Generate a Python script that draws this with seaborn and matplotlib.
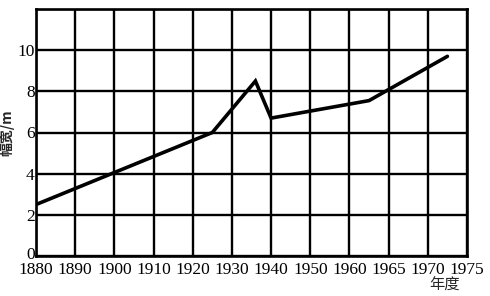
import numpy as np
import matplotlib
matplotlib.use("Agg")
import matplotlib.pyplot as plt
import matplotlib.transforms as mtransforms
import seaborn as sns
import pandas as pd

# data
years = [1880, 1925, 1936, 1940, 1962.5, 1972.5]
widths = [2.5, 6.0, 8.5, 6.7, 7.55, 9.7]
tick_years = [1880, 1890, 1900, 1910, 1920, 1930, 1940, 1950, 1960, 1965, 1970, 1975]
y_ticks = [0, 2, 4, 6, 8, 10]

sns.set_theme(style="white")
plt.rcParams['font.family'] = ['Liberation Serif', 'Noto Sans CJK SC']

pos = np.arange(len(tick_years), dtype=float)
ty = np.array(tick_years, dtype=float)

def fwd(x):
    x = np.asarray(x, dtype=float)
    out = np.interp(x, ty, pos)
    lo = x < ty[0]
    hi = x > ty[-1]
    out = np.where(lo, (x - ty[0]) / 10.0, out)
    out = np.where(hi, pos[-1] + (x - ty[-1]) / 5.0, out)
    return out

def inv(p):
    p = np.asarray(p, dtype=float)
    out = np.interp(p, pos, ty)
    out = np.where(p < 0, ty[0] + p * 10.0, out)
    out = np.where(p > pos[-1], ty[-1] + (p - pos[-1]) * 5.0, out)
    return out

fig = plt.figure(figsize=(4.9, 2.96), dpi=100)
ax = fig.add_axes([36/490, 1 - 256/296, (467-36)/490, (256-9)/296])
ax.set_xscale('function', functions=(fwd, inv))

df = pd.DataFrame({"year": years, "width": widths})
sns.lineplot(data=df, x="year", y="width", ax=ax, color="black", linewidth=2.6,
             solid_joinstyle="miter", zorder=3)

ax.set_xlim(1880, 1975)
ax.set_ylim(0, 12)
ax.set_xticks(tick_years)
ax.set_xticklabels([str(t) for t in tick_years], fontsize=12.5)
ax.set_yticks(y_ticks + [12])
ax.set_yticklabels([str(t) for t in y_ticks] + [""], fontsize=12.5)
ax.xaxis.set_minor_locator(matplotlib.ticker.NullLocator())
ax.tick_params(axis='y', length=0, pad=1, colors='black')
ax.tick_params(axis='x', length=0, pad=4.5, colors='black')
# lift the "0" label slightly, as in the reference
lab0 = ax.get_yticklabels()[0]
lab0.set_transform(lab0.get_transform() +
                   mtransforms.ScaledTranslation(0, 2.5/72, fig.dpi_scale_trans))
ax.grid(True, color='black', linewidth=1.7)
for s in ax.spines.values():
    s.set_color('black')
    s.set_linewidth(1.9)
ax.set_xlabel("")
ax.set_ylabel("幅宽/m", fontsize=10, labelpad=2, family=['Noto Sans CJK SC'],
              fontweight='bold')
fig.text(444/490, 1 - 285/296, "年度", fontsize=11, ha='center', va='center',
         family=['Noto Sans CJK SC'])
fig.savefig("out.png", dpi=100)
